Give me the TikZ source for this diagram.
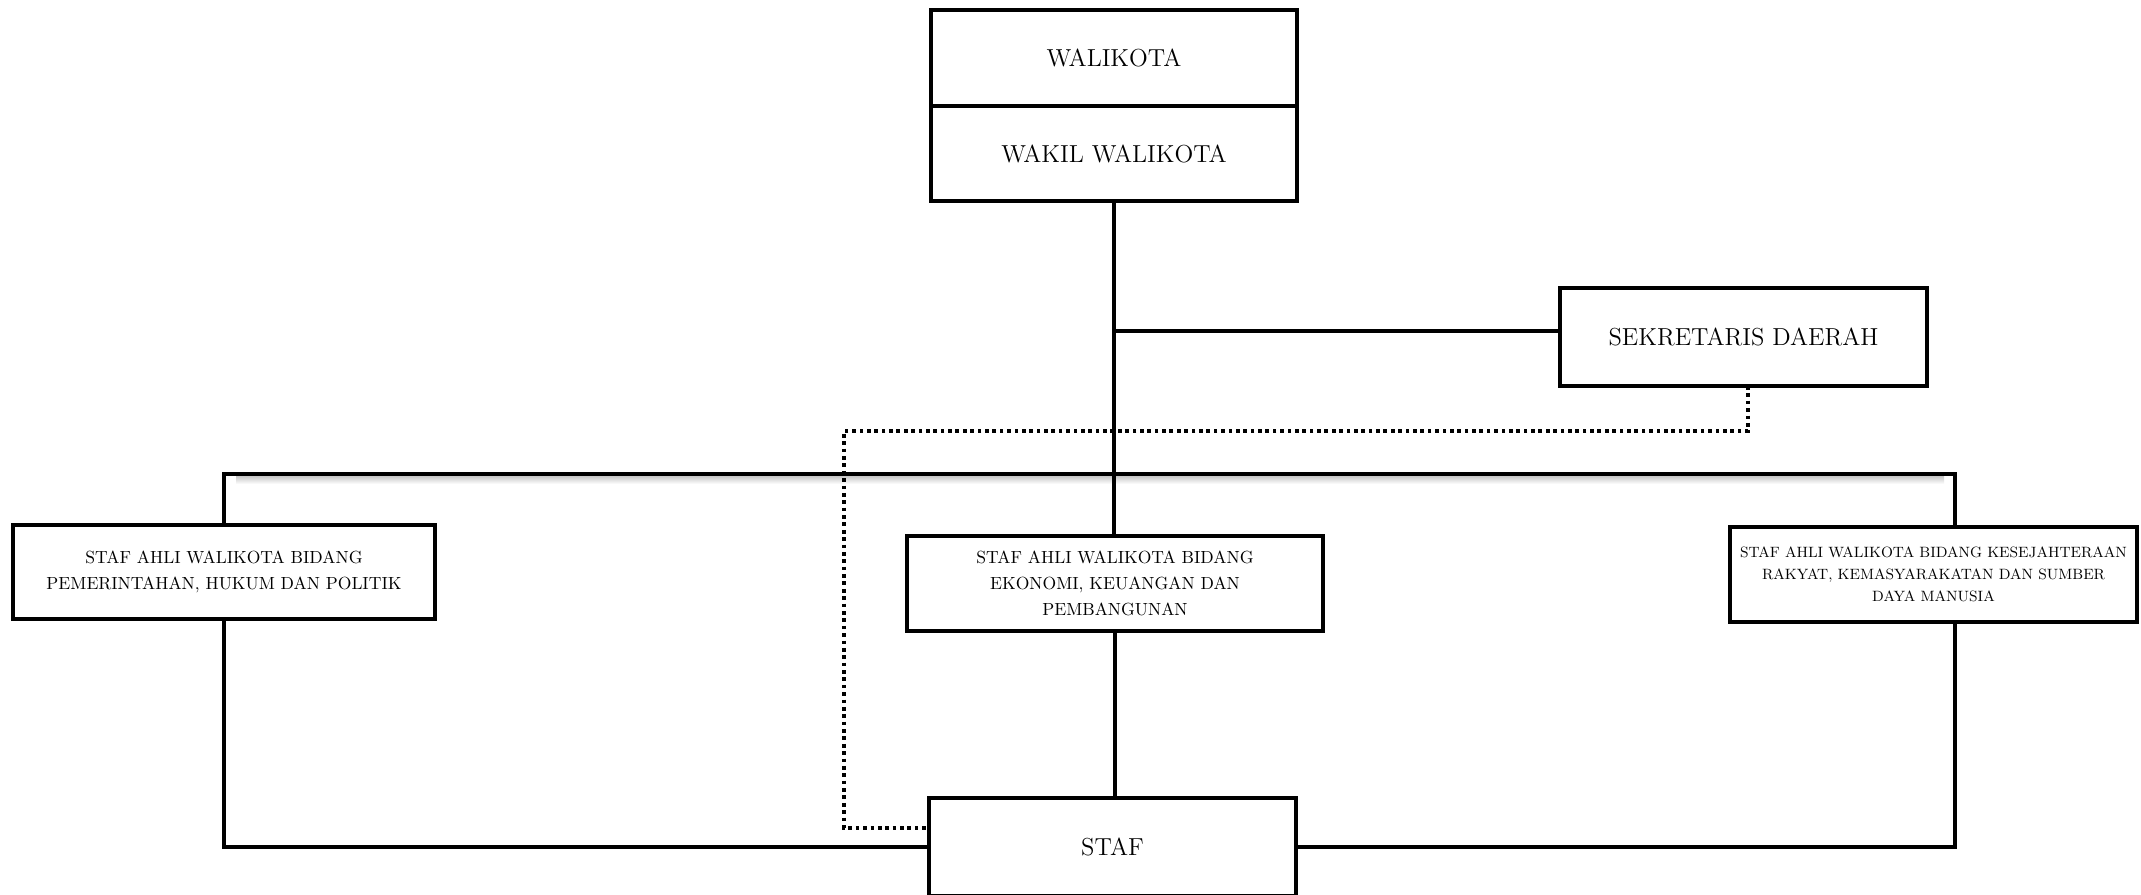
\documentclass[tikz,border=0pt]{standalone}
\usetikzlibrary{positioning}
\begin{document}
\begin{tikzpicture}[x=0.02cm,y=-0.02cm,
    box/.style={draw,line width=2.4pt,outer sep=0pt,align=center,inner sep=0pt,font=\fontsize{14}{17}\selectfont},
    subbox/.style={box,font=\fontsize{10}{15}\selectfont},
    conn/.style={line width=2.1pt},
    dotline/.style={line width=2.1pt,dash pattern=on 2.1pt off 2.1pt}]
      \clip (0,0) rectangle (2141,895);

      % Define the top nodes
      \node[box,minimum width=7.32cm,minimum height=1.92cm] (walikota) at (1114,58) {WALIKOTA};
      \node[box,minimum width=7.32cm,minimum height=1.9cm,below=0pt of walikota] (wakil) {WAKIL WALIKOTA};
      \node[box,minimum width=7.34cm,minimum height=1.96cm] (sekda) at (1743.5,337) {SEKRETARIS DAERAH};

      % Define the staf ahli nodes
      \node[subbox,minimum width=8.44cm,minimum height=1.88cm] (sahukum) at (224,572)
          {STAF AHLI WALIKOTA BIDANG\\PEMERINTAHAN, HUKUM DAN POLITIK};
      \node[subbox,minimum width=8.32cm,minimum height=1.9cm] (saekonomi) at (1115,583.5)
          {STAF AHLI WALIKOTA BIDANG\\EKONOMI, KEUANGAN DAN\\PEMBANGUNAN};
      \node[subbox,minimum width=8.14cm,minimum height=1.9cm,font=\fontsize{8.5}{12.5}\selectfont] (sakesra) at (1933.5,574.5)
          {STAF AHLI WALIKOTA BIDANG KESEJAHTERAAN\\RAKYAT, KEMASYARAKATAN DAN SUMBER\\DAYA MANUSIA};

      % Define the bottom node
      \node[box,minimum width=7.34cm,minimum height=1.96cm] (staf) at (1112.5,847) {STAF};

      \coordinate (sekBr) at (1114,331);
      \coordinate (busL) at (224,474);
      \coordinate (busR) at (1955,474);
      \coordinate (dotR) at (1748,431);
      \coordinate (dotL) at (844,431);
      \coordinate (dotB) at (844,828);

      % Shadow under the bus line
      \shade[top color=black!22,bottom color=white] (236,476) rectangle (1944,484);

      % Draw the lines between the nodes
      \draw[conn] (wakil.south) -- (wakil.south |- saekonomi.north);
      \draw[conn] (sekBr) -- (sekBr -| sekda.west);
      \draw[conn] (sahukum.north) -- (busL) -- (busR) -- (busR |- sakesra.north);
      \draw[conn] (saekonomi.south) -- (saekonomi.south |- staf.north);
      \draw[conn] (sahukum.south) |- (staf.west);
      \draw[conn] (busR |- sakesra.south) |- (staf.east);

      % Draw the dotted line from sekda to staf
      \draw[dotline] (dotR |- sekda.south) -- (dotR) -- (dotL) -- (dotB) -- (dotB -| staf.west);
\end{tikzpicture}
\end{document}
